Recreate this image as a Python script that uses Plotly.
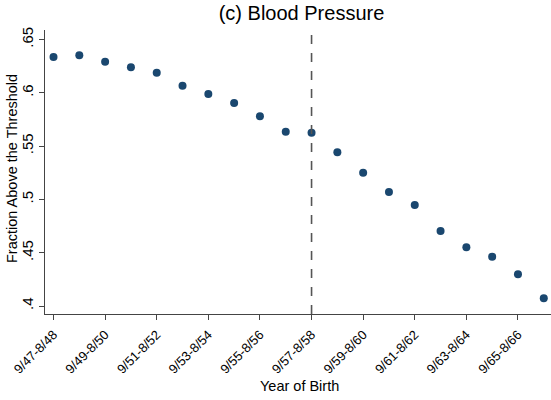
import plotly.graph_objects as go

categories = ["9/47-8/48", "9/48-8/49", "9/49-8/50", "9/50-8/51", "9/51-8/52",
              "9/52-8/53", "9/53-8/54", "9/54-8/55", "9/55-8/56", "9/56-8/57",
              "9/57-8/58", "9/58-8/59", "9/59-8/60", "9/60-8/61", "9/61-8/62",
              "9/62-8/63", "9/63-8/64", "9/64-8/65", "9/65-8/66", "9/66-8/67"]
fraction = [0.6336, 0.6352, 0.6292, 0.6239, 0.6189, 0.6067, 0.5989, 0.5904,
            0.5780, 0.5635, 0.5626, 0.5442, 0.5250, 0.5069, 0.4947, 0.4704,
            0.4551, 0.4462, 0.4297, 0.4072]
cutoff = "9/57-8/58"
x_ticks = categories[::2]
y_ticks = [0.4, 0.45, 0.5, 0.55, 0.6, 0.65]
y_tick_text = [".4", ".45", ".5", ".55", ".6", ".65"]

FONT = "Liberation Sans, Arial, Helvetica, sans-serif"
W, H = 551, 400
ML, MR, MT, MB = 45, 0, 30, 86
idx = list(range(len(categories)))

fig = go.Figure()
fig.add_trace(go.Scatter(
    x=idx, y=fraction, mode="markers",
    marker=dict(color="#1a476f", size=8, line=dict(width=0)),
    hoverinfo="skip", showlegend=False, cliponaxis=False,
))

fig.add_shape(type="line", xref="x", yref="paper",
              x0=categories.index(cutoff), x1=categories.index(cutoff), y0=0, y1=1,
              line=dict(color="#555555", width=1.6, dash="dash"))

fig.add_annotation(text="Year of Birth", xref="paper", yref="paper",
                   x=(299.5 - ML) / (W - ML - MR), y=-(386 - (H - MB)) / (H - MT - MB),
                   xanchor="center", yanchor="middle", showarrow=False,
                   font=dict(size=14.5, family=FONT, color="black"))
fig.add_annotation(text="Fraction Above the Threshold", xref="paper", yref="paper",
                   x=-(ML - 12) / (W - ML - MR), y=1 - (169 - MT) / (H - MT - MB),
                   xanchor="center", yanchor="middle", textangle=-90, showarrow=False,
                   font=dict(size=14.5, family=FONT, color="black"))

fig.update_layout(
    width=W, height=H,
    margin=dict(l=ML, r=MR, t=MT, b=MB, autoexpand=False),
    paper_bgcolor="white", plot_bgcolor="white",
    font=dict(family=FONT, color="black"),
    title=dict(text="(c) Blood Pressure", x=301.5 / W, xanchor="center",
               xref="container", y=1 - 13 / H, yanchor="middle",
               font=dict(size=20, family=FONT, color="black")),
    xaxis=dict(
        range=[-0.33, 19.28], automargin=False,
        tickmode="array", tickvals=[categories.index(c) for c in x_ticks], ticktext=x_ticks,
        tickangle=-45, tickfont=dict(size=13), ticklabelstandoff=2,
        ticks="outside", ticklen=5, tickcolor="#444444",
        showline=True, linecolor="#444444", linewidth=1,
        showgrid=False, zeroline=False,
    ),
    yaxis=dict(
        range=[0.3925, 0.6589], automargin=False,
        tickmode="array", tickvals=y_ticks, ticktext=y_tick_text,
        tickangle=-90, tickfont=dict(size=15), ticklabelstandoff=0,
        ticks="outside", ticklen=5, tickcolor="#444444",
        showline=True, linecolor="#444444", linewidth=1,
        showgrid=False, zeroline=False,
    ),
)

fig.write_html("out.html", config={"displayModeBar": False},
               post_script="document.body.style.margin='0';")
